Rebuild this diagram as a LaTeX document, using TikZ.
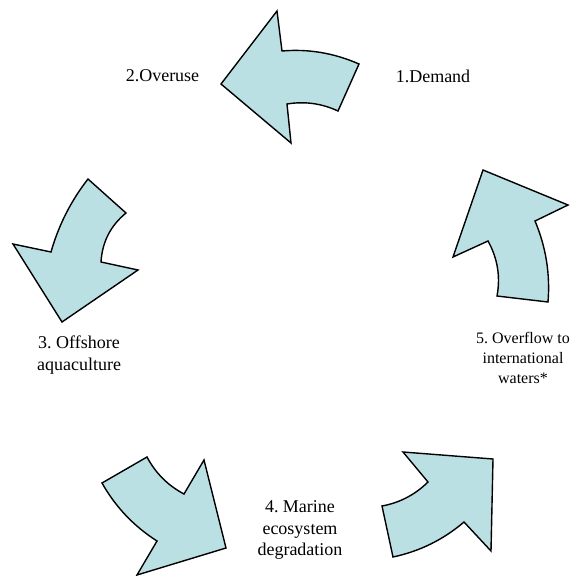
\documentclass[tikz,border=0pt]{standalone}
\usepackage{fontspec}
\setmainfont{Liberation Serif}
\definecolor{cyclefill}{RGB}{187,224,227}
\begin{document}
\frenchspacing
\begin{tikzpicture}[x=1pt,y=-1pt]
    % --- styles ---
    \tikzset{cyclearrow/.style={fill=cyclefill,draw=black,line width=1.4pt,line join=miter},
             steplabel/.style={align=center,inner sep=0pt,font=\fontsize{18}{21.5}\selectfont}}

    \useasboundingbox (0,0) rectangle (576,576);

    % top arrow (pointing left)
    \draw[cyclearrow] (221,84) -- (277,11) -- (282,51)
      .. controls (308.5,48.7) and (334.2,53.1) .. (359,64) -- (338,111)
      .. controls (321.7,103.4) and (304.7,101.1) .. (287,104) -- (291,143) -- cycle;

    % left arrow (pointing down)
    \draw[cyclearrow] (88,179) -- (126,213)
      .. controls (110.5,225.7) and (102.2,242) .. (101,262) -- (138,270) -- (62,322)
      -- (13,244) -- (51,252) .. controls (58.6,225.3) and (70.9,200.9) .. cycle;

    % bottom left arrow (pointing down right)
    \draw[cyclearrow] (147,457) .. controls (155.5,473.1) and (167.9,485.5) .. (184,494)
      -- (204,460) -- (226,548) -- (137,575) -- (157,541)
      .. controls (133.9,526.3) and (115.5,506.9) .. (102,483) -- cycle;

    % bottom right arrow (pointing up right)
    \draw[cyclearrow] (403,452) -- (493,459) -- (491,551) -- (464,522)
      .. controls (443.3,539.7) and (419.6,551.3) .. (393,557) -- (382,506)
      .. controls (399.8,502.7) and (415.1,494.7) .. (428,482) -- cycle;

    % right arrow (pointing up)
    \draw[cyclearrow] (483,170) -- (568,205) -- (535,221)
      .. controls (545.9,246.9) and (550.3,273.9) .. (548,302) -- (497,296)
      .. controls (500.6,276.6) and (497.6,258.3) .. (488,241) -- (453,257) -- cycle;

    % step labels
    \node[steplabel] (demand)   at (433,76)  {1.Demand};
    \node[steplabel] (overuse)  at (162.5,76) {2.Overuse};
    \node[steplabel] (offshore) at (79,355)  {3. Offshore\\aquaculture};
    \node[steplabel] (marine)   at (300,530) {4. Marine\\ecosystem\\degradation};
    \node[steplabel,font=\fontsize{16}{20}\selectfont] (overflow) at (523,358)
      {5. Overflow to\\international\\waters*};
\end{tikzpicture}
\end{document}
